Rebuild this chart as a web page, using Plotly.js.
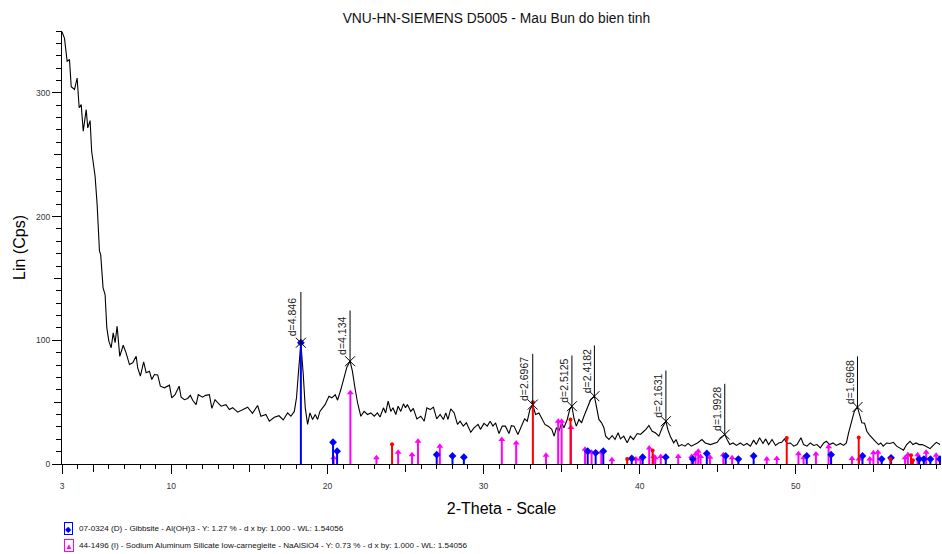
<!DOCTYPE html>
<html>
<head>
<meta charset="utf-8">
<script src="https://cdn.plot.ly/plotly-3.0.1.min.js"></script>
<style>html,body{margin:0;padding:0;background:#fff}#chart{width:942px;height:554px}</style>
</head>
<body>
<div id="chart"></div>
<script>
// ---- measured scan (2-Theta, Lin Cps) ----
const scanX = [3.0,3.16,3.33,3.48,3.59,3.8,3.97,4.1,4.23,4.36,4.55,4.65,4.8,4.9,5.12,5.25,5.4,5.48,5.63,5.76,5.87,6.0,6.15,6.28,6.4,6.53,6.7,6.92,7.1,7.32,7.53,7.75,7.85,8.02,8.23,8.39,8.6,8.75,8.92,9.13,9.3,9.56,9.88,10.03,10.24,10.5,10.63,10.84,11.05,11.22,11.37,11.59,11.73,12.0,12.2,12.44,12.6,12.8,13.19,13.5,13.72,13.93,14.25,14.57,14.89,15.2,15.53,15.74,16.06,16.28,16.6,16.9,17.17,17.45,17.66,17.88,18.02,18.15,18.3,18.45,18.58,18.73,18.88,19.05,19.22,19.37,19.52,19.69,19.85,20.1,20.28,20.5,20.65,20.86,21.07,21.25,21.45,21.6,21.78,21.93,22.14,22.35,22.57,22.78,23.0,23.2,23.37,23.59,23.73,23.89,24.06,24.2,24.38,24.53,24.7,24.87,25.0,25.12,25.34,25.5,25.73,25.98,26.2,26.37,26.58,26.79,27.0,27.22,27.43,27.58,27.72,27.9,28.12,28.33,28.5,28.7,28.9,29.18,29.39,29.65,29.8,30.03,30.24,30.42,30.6,30.77,30.99,31.2,31.4,31.63,31.78,31.95,32.2,32.42,32.63,32.8,32.97,33.15,33.33,33.55,33.76,33.93,34.14,34.37,34.52,34.67,34.83,35.0,35.15,35.36,35.52,35.66,35.79,35.94,36.11,36.28,36.43,36.64,36.86,37.1,37.22,37.39,37.56,37.71,37.82,38.03,38.24,38.42,38.62,38.77,38.98,39.2,39.4,39.6,39.84,40.05,40.27,40.4,40.59,40.8,41.0,41.23,41.44,41.68,41.8,41.96,42.18,42.33,42.5,42.7,42.9,43.1,43.3,43.5,43.7,43.99,44.2,44.54,44.75,44.97,45.17,45.45,45.6,45.77,45.98,46.2,46.45,46.66,46.87,47.09,47.3,47.47,47.68,47.9,48.07,48.26,48.48,48.7,48.9,49.1,49.27,49.44,49.65,49.87,50.08,50.33,50.5,50.72,50.93,51.15,51.36,51.57,51.79,51.96,52.17,52.38,52.6,52.85,53.06,53.24,53.38,53.53,53.75,53.95,54.1,54.23,54.4,54.55,54.7,54.87,55.08,55.3,55.44,55.6,55.82,56.03,56.25,56.46,56.67,56.9,57.1,57.32,57.5,57.7,57.9,58.1,58.33,58.6,58.8,59.0,59.24];
const scanY = [349.4,344,325.6,327,305,302.7,312,288,290.5,269,286.5,271.7,277.6,252.8,232.6,209.7,172,169,142.4,137,110,99.3,94,106,98,111.4,87,96,90,80.4,81.8,87.1,77.7,71,82.6,73.7,75,68.3,72.3,72,62.9,61.6,63.7,53.5,56,62.9,54,52,53,55.5,51.5,48,56,54,55.5,56,45,52,46.7,48,44,45.5,41.9,44,45.9,41,47.3,38.6,40,34.6,37.8,39,35.6,41.3,38.6,42.5,53.5,75,98,73,45.4,32,41.3,36,40,36,42.5,45.4,48,54.8,53.5,56,51.6,60.2,69.7,78.5,83.1,75,60.2,49.5,38.6,42.5,40,41.3,38.6,41.3,38,45.4,41.3,50.8,42.5,45.4,40,46.7,42.5,48.6,45.4,48,42.5,45,36.5,38.6,34.6,45.4,44,46,36.5,40,36,41.3,36,44.6,41.3,32,34.6,30.6,33.3,25.7,29.2,32,28,32.8,30.6,34.6,30.6,33.3,24.6,30.6,30.6,24.6,31,30.6,23.8,30.6,36.5,34.6,44,48,40,41.3,36,32,30.6,28,22.5,29.3,26.5,33.3,29.3,36,44,46.7,37,30.6,36,33.3,38.6,45.4,52,54.8,46.7,36,33.3,29.3,22.5,19.8,23,19.8,25.2,20.3,22.5,17.1,22.5,19.8,24.6,24,26.5,28,31.1,26.5,25.2,22.5,29.3,34.6,28,22.5,17.1,19.8,14.4,15.7,14.4,16.6,14.4,15.7,17,19.8,17,15.7,16.6,17.5,21.2,23.8,19.8,15.7,17,15,17,15,16.6,14.4,19.3,15.7,21.2,16.6,20.3,15.7,19.8,15,17,17.5,20.3,16.6,17,14.4,15.7,21.2,15.7,14.4,17,15,15.7,13,17,18.4,15.7,17,15,16.6,15,17,25.2,33.3,42.7,46,38.6,33.3,33,26.5,23.8,21,18.4,15.7,17,14.4,17,16.6,17.5,14.4,13,11.2,15.7,18.4,15.7,17,15.7,15.7,14.4,12.4,15,17.5,15.7];

// ---- reference patterns (stick positions and heights) ----
const gibbsiteX = [18.30,20.36,20.62,27.00,28.01,28.74,36.67,37.18,37.67,39.49,40.19,41.67,43.40,44.30,45.51,46.32,47.30,50.70,52.26,54.27,55.50,56.10,57.90,58.20,58.62,59.23];
const gibbsiteH = [98,17.6,10.4,7.5,6.5,5.5,10.4,9.0,10.4,4.5,5.5,5.5,4,8.5,6.5,4,6.5,6.5,7.5,6.5,4,5,4,4,4,4];
const carnegX = [20.40,21.47,23.14,24.53,25.42,25.80,27.20,31.17,32.09,34.00,34.78,35.00,35.60,36.50,36.92,37.54,38.22,39.76,40.05,40.61,40.90,41.00,41.35,42.47,43.33,43.58,43.75,43.90,44.50,45.36,45.92,48.14,48.78,50.17,50.50,51.29,52.10,53.60,54.05,54.74,54.97,55.26,57.00,57.18,57.80,58.35,58.99];
const carnegH = [5,57.5,5,9.5,7.5,18.4,14.4,19.8,17,7,34.6,34.6,29.5,12,9.5,9.5,3.5,4,4,13,6,5,6,6,6,8,10.4,6,5.5,7.5,5,4,4.5,8.3,5,8,14,4.5,4,4,9,9.5,5,7.5,7.5,9.5,7];
const thirdX = [24.14,33.16,35.57,39.20,40.83,49.42,54.03,56.06,57.38,57.50];
const thirdH = [16,50,36,4,11,21,21.5,4,7,3];

// ---- peak labels ----
const peakX = [18.30,21.45,33.15,35.66,37.10,41.68,45.45,53.95];
const peakY = [98,83.1,48,46.7,54.8,34.6,23.8,46];
const peakText = ['d=4.846','d=4.134','d=2.6967','d=2.5125','d=2.4182','d=2.1631','d=1.9928','d=1.6968'];

// ---- axis ticks ----
const xTickVals = [3,10,20,30,40,50];
const xMidTicks = [5,15,25,35,45,55];
const yTickVals = [0,100,200,300];
const yMidTicks = [50,150,250];

const legendText = [
  '07-0324 (D) - Gibbsite - Al(OH)3 - Y: 1.27 % - d x by: 1.000 - WL: 1.54056',
  '44-1496 (I) - Sodium Aluminum Silicate low-carnegieite - NaAlSiO4 - Y: 0.73 % - d x by: 1.000 - WL: 1.54056'
];

function sticks(xs, hs) {
  const x = [], y = [];
  xs.forEach((v, i) => { x.push(v, v, null); y.push(0, hs[i], null); });
  return {x, y};
}
const LABEL_LEN = 41;
function leaders(xs, ys) {
  const x = [], y = [];
  xs.forEach((v, i) => { x.push(v, v, null); y.push(ys[i], ys[i] + LABEL_LEN, null); });
  return {x, y};
}

const BLUE = '#0000ff', MAG = '#ff00ff', RED = '#ff0000';
const FONT = 'Liberation Sans, Arial, sans-serif';
const gS = sticks(gibbsiteX, gibbsiteH), cS = sticks(carnegX, carnegH), tS = sticks(thirdX, thirdH);
const lead = leaders(peakX, peakY);

const traces = [
  {x: scanX, y: scanY, mode: 'lines', line: {color: '#000', width: 1.1}, hoverinfo: 'skip'},
  {x: cS.x, y: cS.y, mode: 'lines', line: {color: MAG, width: 2}},
  {x: carnegX, y: carnegH, mode: 'markers', marker: {symbol: 'triangle-up', size: 6, color: MAG}},
  {x: gS.x, y: gS.y, mode: 'lines', line: {color: BLUE, width: 2}},
  {x: gibbsiteX, y: gibbsiteH, mode: 'markers', marker: {symbol: 'diamond', size: 6, color: BLUE}},
  {x: tS.x, y: tS.y, mode: 'lines', line: {color: RED, width: 2}},
  {x: thirdX, y: thirdH, mode: 'markers', marker: {symbol: 'circle', size: 4, color: RED}},
  {x: lead.x, y: lead.y, mode: 'lines', line: {color: '#000', width: 1}},
  {x: peakX, y: peakY, mode: 'markers', xaxis: 'x2', yaxis: 'y2',
   marker: {symbol: 'x-thin-open', size: 10, color: '#000', line: {color: '#000', width: 1}}}
];

const annotations = peakX.map((v, i) => ({
  x: v, y: peakY[i] + LABEL_LEN / 2, xref: 'x', yref: 'y', text: peakText[i],
  showarrow: false, textangle: -90, xshift: -8,
  font: {family: FONT, size: 10.5, color: '#222'}
}));

// legend rows
const legIcons = ['\u25C6', '\u25B2'];
const legColors = [BLUE, MAG];
const legY = [-0.149, -0.188];
legendText.forEach((t, i) => {
  annotations.push({x: 0.0075, y: legY[i], xref: 'paper', yref: 'paper', text: legIcons[i],
    showarrow: false, xanchor: 'center', yanchor: 'middle',
    font: {size: 8, color: legColors[i]}, bordercolor: legColors[i], borderwidth: 1, borderpad: 0, bgcolor: '#fff'});
  annotations.push({x: 0.0165, y: legY[i], xref: 'paper', yref: 'paper', text: t,
    showarrow: false, xanchor: 'left', yanchor: 'middle',
    font: {family: FONT, size: 8.1, color: '#111'}});
});

const tickFont = {family: FONT, size: 8.5, color: '#333'};
const layout = {
  width: 942, height: 554,
  margin: {l: 62, r: 1, t: 31, b: 90},
  paper_bgcolor: '#fff', plot_bgcolor: '#fff',
  showlegend: false,
  title: {text: 'VNU-HN-SIEMENS D5005 - Mau Bun do bien tinh', x: 0.527, xref: 'container',
          y: 0.967, yanchor: 'middle', font: {family: FONT, size: 13.8, color: '#111'}},
  xaxis: {range: [3, 59.3], tickmode: 'array', tickvals: xTickVals, ticktext: xTickVals.map(String),
          ticks: 'outside', ticklen: 9, tickwidth: 1, tickcolor: '#000', tickfont: tickFont,
          ticklabelstandoff: 5,
          minor: {tickmode: 'linear', tick0: 3, dtick: 1, ticks: 'outside', ticklen: 4, tickcolor: '#000', showgrid: false},
          showline: true, linecolor: '#000', linewidth: 1, showgrid: false, zeroline: false,
          title: {text: '2-Theta - Scale', standoff: 12, font: {family: FONT, size: 16, color: '#000'}}},
  yaxis: {range: [0, 350], tickmode: 'array', tickvals: yTickVals, ticktext: yTickVals.map(String),
          ticks: 'outside', ticklen: 9, tickwidth: 1, tickcolor: '#000', tickfont: tickFont,
          minor: {tickmode: 'linear', tick0: 0, dtick: 10, ticks: 'outside', ticklen: 5, tickcolor: '#000', showgrid: false},
          showline: true, linecolor: '#000', linewidth: 1, showgrid: false, zeroline: false,
          title: {text: 'Lin (Cps)', standoff: 6, font: {family: FONT, size: 16, color: '#000'}}},
  xaxis2: {range: [3, 59.3], overlaying: 'x', anchor: 'y', side: 'bottom', tickmode: 'array', tickvals: xMidTicks,
           ticks: 'outside', ticklen: 7, tickcolor: '#000', showticklabels: false, showline: false, showgrid: false, zeroline: false},
  yaxis2: {range: [0, 350], overlaying: 'y', anchor: 'x', side: 'left', tickmode: 'array', tickvals: yMidTicks,
           ticks: 'outside', ticklen: 7, tickcolor: '#000', showticklabels: false, showline: false, showgrid: false, zeroline: false},
  annotations: annotations
};

Plotly.newPlot('chart', traces, layout, {staticPlot: true, displayModeBar: false});
</script>
</body>
</html>
